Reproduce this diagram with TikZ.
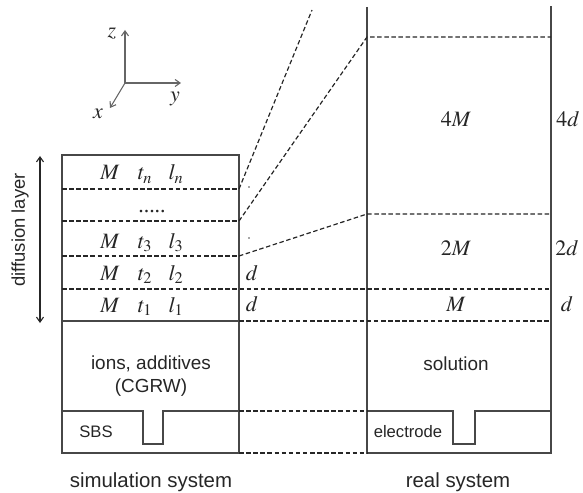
\documentclass[tikz,border=0pt]{standalone}
\usepackage{mathptmx}
\usepackage{fontspec}
\setmainfont{Liberation Serif}
\setsansfont{Liberation Sans}
\usetikzlibrary{arrows.meta}

\begin{document}
\begin{tikzpicture}[
    x=1bp, y=-1bp,
    >={Straight Barb[length=5bp,width=7bp]},
    wall/.style={draw=black!72, line width=1.3bp},
    level/.style={draw=black!85, line width=1.2bp, dash pattern=on 4.5bp off 2.6bp},
    axis/.style={draw=black!60, line width=1.1bp, ->},
    sans/.style={font=\fontsize{19}{21}\selectfont\sffamily, text=black!85, anchor=base, inner sep=0pt},
    small/.style={font=\fontsize{16.7}{19}\selectfont\sffamily, text=black!85, anchor=base, inner sep=0pt},
    caption/.style={font=\fontsize{20.5}{23}\selectfont\sffamily, text=black!85, anchor=base, inner sep=0pt},
    mth/.style={font=\fontsize{22}{24}\selectfont, text=black!85, anchor=base, inner sep=0pt},
]
\useasboundingbox (0,0) rectangle (583,493);

% -- axes --
\coordinate (o) at (125,83);
\draw[axis] (o) -- (125,30);
\draw[axis] (o) -- (181,83);
\draw[axis] (o) -- (110,108);
\node[mth] (zlab) at (112,38) {$z$};
\node[mth] (ylab) at (175,102) {$y$};
\node[mth] (xlab) at (98,119) {$x$};

% -- diffusion layer --
\draw[<->, line width=1.1bp, black!85] (40,156) -- (40,323);
\node[sans, font=\fontsize{18.5}{21}\selectfont\sffamily, anchor=center, rotate=90]
    (dlayer) at (20,230) {diffusion layer};

% -- simulation box --
\draw[wall] (62,155) rectangle (239,453);
\draw[wall] (62,321) -- (239,321);
\draw[wall] (62,411) -- (143,411) -- (143,444) -- (163,444) -- (163,411) -- (239,411);
\foreach \yy in {189,221,256} {
    \draw[level] (62,\yy) -- (239,\yy);
}

\foreach \i/\yy in {n/180, 3/248, 2/280, 1/312} {
    \node[mth] (m\i) at (110,\yy) {$M$};
    \node[mth] (t\i) at (145,\yy) {$t_{\i}$};
    \node[mth] (l\i) at (176,\yy) {$l_{\i}$};
}
\node[mth] (dots) at (152,213) {.....};

\node[sans] (ions) at (151,369) {ions, additives};
\node[sans] (cgrw) at (151,392) {(CGRW)};
\node[small] (sbs) at (96,437) {SBS};
\node[caption] (simsys) at (151,487) {simulation system};

% -- real box --
\draw[wall] (367,7) -- (367,453) -- (551,453) -- (551,6);
\draw[wall] (367,411) -- (453,411) -- (453,444) -- (475,444) -- (475,411) -- (551,411);

% -- levels between the boxes --
\draw[level] (62,289) -- (551,289);
\draw[level] (239,321) -- (551,321);
\draw[level] (239,411) -- (367,411);
\draw[level] (239,453) -- (367,453);
\draw[level] (239,256) -- (367,214) -- (551,214);
\draw[level] (239,221) -- (367,37) -- (551,37);
\draw[level] (239,189) -- (312,10);
\fill[black!70] (249,187) circle (0.9bp) (249,238) circle (0.9bp);

\node[mth] (d2) at (252,280) {$d$};
\node[mth] (d1) at (252,311) {$d$};

\node[mth] (m4) at (456,127) {$4M$};
\node[mth] (m2) at (456,255) {$2M$};
\node[mth] (m1) at (456,311) {$M$};
\node[mth] (r4) at (568,127) {$4d$};
\node[mth] (r2) at (567,255) {$2d$};
\node[mth] (r1) at (567,311) {$d$};

\node[sans] (sol) at (456,370) {solution};
\node[small] (elec) at (408,437) {electrode};
\node[caption] (realsys) at (458,487) {real system};

\end{tikzpicture}
\end{document}
